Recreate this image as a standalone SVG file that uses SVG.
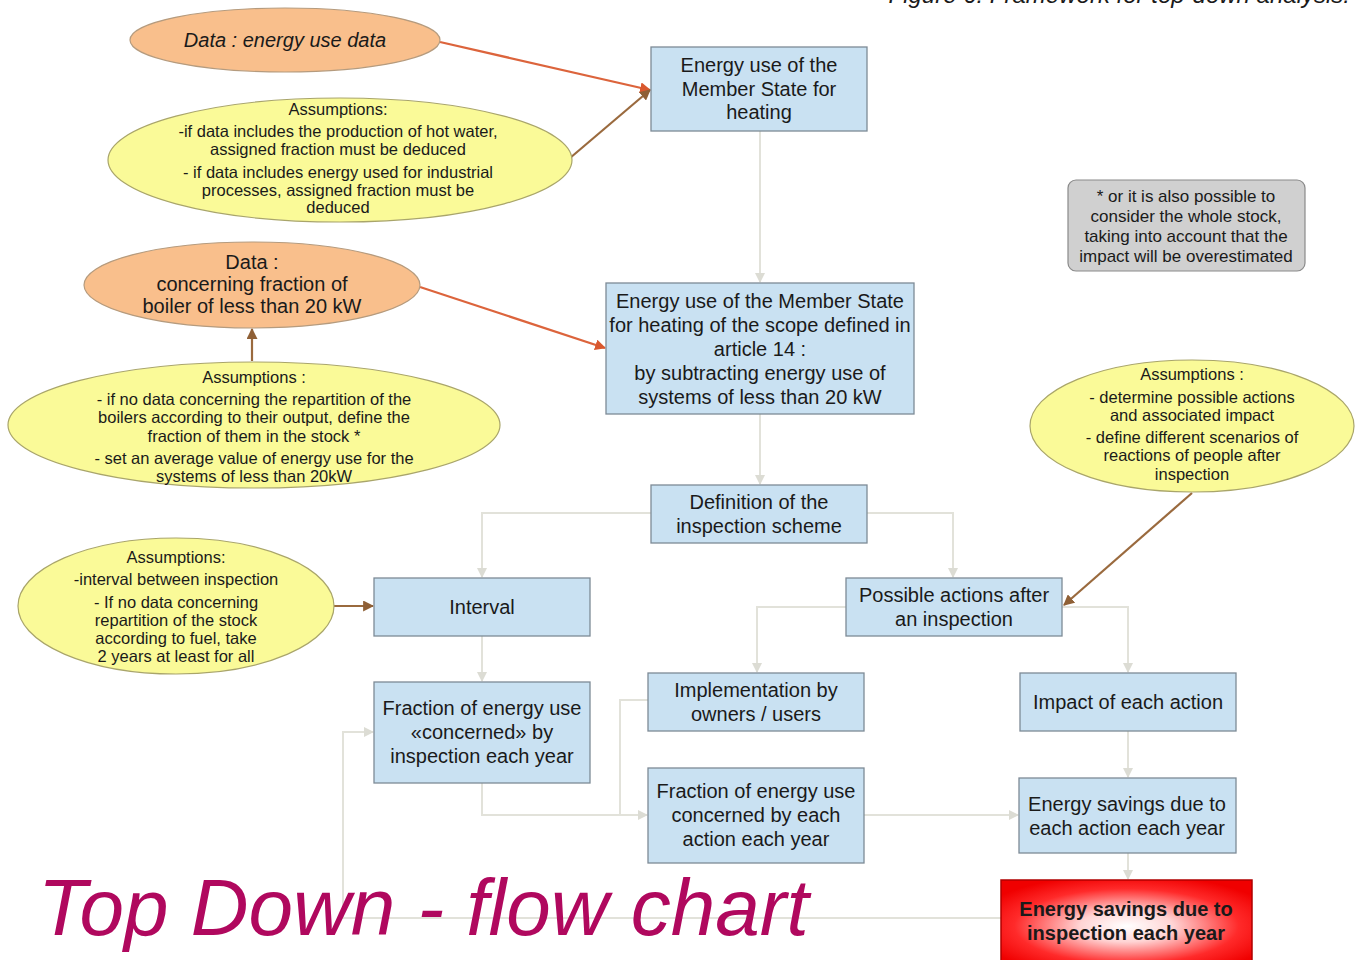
<svg xmlns="http://www.w3.org/2000/svg" width="1360" height="960" viewBox="0 0 1360 960">
<style>
text{font-family:"Liberation Sans",Arial,sans-serif;fill:#1a1a1a;text-anchor:middle}
.box{fill:#c9e1f2;stroke:#7d8a96;stroke-width:1.3}
.bt{font-size:20px}
.et{font-size:16.5px}
.nt{font-size:17px}
.data{fill:#f9bf8c;stroke:#b59b7e;stroke-width:1.2}
.asm{fill:#fafa98;stroke:#a9a56a;stroke-width:1.2}
.c{fill:none;stroke:#e2e2da;stroke-width:2}
.cr{fill:none;stroke:#dc643c;stroke-width:2.2}
.cb{fill:none;stroke:#9a6a3e;stroke-width:2.2}
</style>
<defs>
<marker id="ag" viewBox="0 0 10 10" refX="9" refY="5" markerWidth="10" markerHeight="10" markerUnits="userSpaceOnUse" orient="auto"><path d="M0,0 L10,5 L0,10 z" fill="#dcdcd4"/></marker>
<marker id="ar" viewBox="0 0 10 10" refX="9" refY="5" markerWidth="11" markerHeight="11" markerUnits="userSpaceOnUse" orient="auto"><path d="M0,0 L10,5 L0,10 z" fill="#d9582e"/></marker>
<marker id="ab" viewBox="0 0 10 10" refX="9" refY="5" markerWidth="11" markerHeight="11" markerUnits="userSpaceOnUse" orient="auto"><path d="M0,0 L10,5 L0,10 z" fill="#8f6036"/></marker>
<radialGradient id="redg" cx="0.5" cy="0.55" r="0.62">
<stop offset="0" stop-color="#ffffff"/>
<stop offset="0.3" stop-color="#ffd4d4"/>
<stop offset="0.72" stop-color="#ff2a2a"/>
<stop offset="1" stop-color="#f00000"/>
</radialGradient>
</defs>

<text x="1350" y="3" style="font-size:24px;font-style:italic;text-anchor:end">Figure 6: Framework for top-down analysis.</text>

<g id="connectors">
<path class="c" d="M760,131 V282" marker-end="url(#ag)"/>
<path class="c" d="M760,414 V484" marker-end="url(#ag)"/>
<path class="c" d="M651,513 H482 V577" marker-end="url(#ag)"/>
<path class="c" d="M867,513 H953 V577" marker-end="url(#ag)"/>
<path class="c" d="M482,636 V681" marker-end="url(#ag)"/>
<path class="c" d="M846,607 H757 V672" marker-end="url(#ag)"/>
<path class="c" d="M1062,607 H1128 V672" marker-end="url(#ag)"/>
<path class="c" d="M1128,731 V777" marker-end="url(#ag)"/>
<path class="c" d="M1128,853 V879" marker-end="url(#ag)"/>
<path class="c" d="M482,783 V815 H647" marker-end="url(#ag)"/>
<path class="c" d="M648,700 H620 V815"/>
<path class="c" d="M864,815 H1018" marker-end="url(#ag)"/>
<path class="c" d="M1001,918 H343 V732 H373" marker-end="url(#ag)"/>
<path class="cr" d="M440,42 L650,90" marker-end="url(#ar)"/>
<path class="cb" d="M570,158 L650,90" marker-end="url(#ab)"/>
<path class="cr" d="M420,287 L605,348" marker-end="url(#ar)"/>
<path class="cb" d="M252,361 V329" marker-end="url(#ab)"/>
<path class="cb" d="M334,606 H373" marker-end="url(#ab)"/>
<path class="cb" d="M1192,493 L1064,605" marker-end="url(#ab)"/>
</g>

<g id="data-energy">
<ellipse class="data" cx="285" cy="40" rx="155" ry="32"/>
<text class="bt" x="285" y="47" style="font-style:italic">Data : energy use data</text>
</g>

<g id="assumptions-1">
<ellipse class="asm" cx="340" cy="160" rx="232" ry="62"/>
<text class="et" x="338" y="115">Assumptions:</text>
<text class="et" x="338" y="137">-if data includes the production of hot water,</text>
<text class="et" x="338" y="155">assigned fraction must be deduced</text>
<text class="et" x="338" y="178">- if data includes energy used for industrial</text>
<text class="et" x="338" y="196">processes, assigned fraction must be</text>
<text class="et" x="338" y="213">deduced</text>
</g>

<g id="energy-heating">
<rect class="box" x="651" y="47" width="216" height="84"/>
<text class="bt" x="759" y="72">Energy use of the</text>
<text class="bt" x="759" y="96">Member State for</text>
<text class="bt" x="759" y="119">heating</text>
</g>

<g id="note">
<rect x="1068" y="180" width="237" height="91" rx="8" fill="#d0d0d0" stroke="#8a8a8a" stroke-width="1.2"/>
<text class="nt" x="1186" y="202">* or it is also possible to</text>
<text class="nt" x="1186" y="222">consider the whole stock,</text>
<text class="nt" x="1186" y="242">taking into account that the</text>
<text class="nt" x="1186" y="262">impact will be overestimated</text>
</g>

<g id="data-boiler">
<ellipse class="data" cx="252" cy="285" rx="168" ry="43"/>
<text class="bt" x="252" y="269">Data :</text>
<text class="bt" x="252" y="291">concerning fraction of</text>
<text class="bt" x="252" y="313">boiler of less than 20 kW</text>
</g>

<g id="assumptions-2">
<ellipse class="asm" cx="254" cy="425" rx="246" ry="63"/>
<text class="et" x="254" y="383">Assumptions :</text>
<text class="et" x="254" y="405">- if no data concerning the repartition of the</text>
<text class="et" x="254" y="423">boilers according to their output, define the</text>
<text class="et" x="254" y="442">fraction of them in the stock *</text>
<text class="et" x="254" y="464">- set an average value of energy use for the</text>
<text class="et" x="254" y="482">systems of less than 20kW</text>
</g>

<g id="energy-scope">
<rect class="box" x="606" y="283" width="308" height="131"/>
<text class="bt" x="760" y="308">Energy use of the Member State</text>
<text class="bt" x="760" y="332">for heating of the scope defined in</text>
<text class="bt" x="760" y="356">article 14 :</text>
<text class="bt" x="760" y="380">by subtracting energy use of</text>
<text class="bt" x="760" y="404">systems of less than 20 kW</text>
</g>

<g id="assumptions-3">
<ellipse class="asm" cx="1192" cy="426" rx="162" ry="66"/>
<text class="et" x="1192" y="380">Assumptions :</text>
<text class="et" x="1192" y="403">- determine possible actions</text>
<text class="et" x="1192" y="421">and associated impact</text>
<text class="et" x="1192" y="443">- define different scenarios of</text>
<text class="et" x="1192" y="461">reactions of people after</text>
<text class="et" x="1192" y="480">inspection</text>
</g>

<g id="definition">
<rect class="box" x="651" y="485" width="216" height="58"/>
<text class="bt" x="759" y="509">Definition of the</text>
<text class="bt" x="759" y="533">inspection scheme</text>
</g>

<g id="assumptions-4">
<ellipse class="asm" cx="176" cy="606" rx="158" ry="68"/>
<text class="et" x="176" y="563">Assumptions:</text>
<text class="et" x="176" y="585">-interval between inspection</text>
<text class="et" x="176" y="608">- If no data concerning</text>
<text class="et" x="176" y="626">repartition of the stock</text>
<text class="et" x="176" y="644">according to fuel, take</text>
<text class="et" x="176" y="662">2 years at least for all</text>
</g>

<g id="interval">
<rect class="box" x="374" y="578" width="216" height="58"/>
<text class="bt" x="482" y="614">Interval</text>
</g>

<g id="possible-actions">
<rect class="box" x="846" y="578" width="216" height="58"/>
<text class="bt" x="954" y="602">Possible actions after</text>
<text class="bt" x="954" y="626">an inspection</text>
</g>

<g id="implementation">
<rect class="box" x="648" y="673" width="216" height="58"/>
<text class="bt" x="756" y="697">Implementation by</text>
<text class="bt" x="756" y="721">owners / users</text>
</g>

<g id="impact">
<rect class="box" x="1020" y="673" width="216" height="58"/>
<text class="bt" x="1128" y="709">Impact of each action</text>
</g>

<g id="fraction-concerned">
<rect class="box" x="374" y="682" width="216" height="101"/>
<text class="bt" x="482" y="715">Fraction of energy use</text>
<text class="bt" x="482" y="739">«concerned» by</text>
<text class="bt" x="482" y="763">inspection each year</text>
</g>

<g id="fraction-action">
<rect class="box" x="648" y="768" width="216" height="95"/>
<text class="bt" x="756" y="798">Fraction of energy use</text>
<text class="bt" x="756" y="822">concerned by each</text>
<text class="bt" x="756" y="846">action each year</text>
</g>

<g id="savings-action">
<rect class="box" x="1019" y="778" width="217" height="75"/>
<text class="bt" x="1127" y="811">Energy savings due to</text>
<text class="bt" x="1127" y="835">each action each year</text>
</g>

<g id="savings-inspection">
<rect x="1001" y="880" width="251" height="84" fill="url(#redg)" stroke="#b00000" stroke-width="1.5"/>
<text class="bt" x="1126" y="916" style="font-weight:bold">Energy savings due to</text>
<text class="bt" x="1126" y="940" style="font-weight:bold">inspection each year</text>
</g>

<text x="38" y="935" style="font-size:80px;font-style:italic;fill:#b0085e;text-anchor:start">Top Down - flow chart</text>
</svg>
